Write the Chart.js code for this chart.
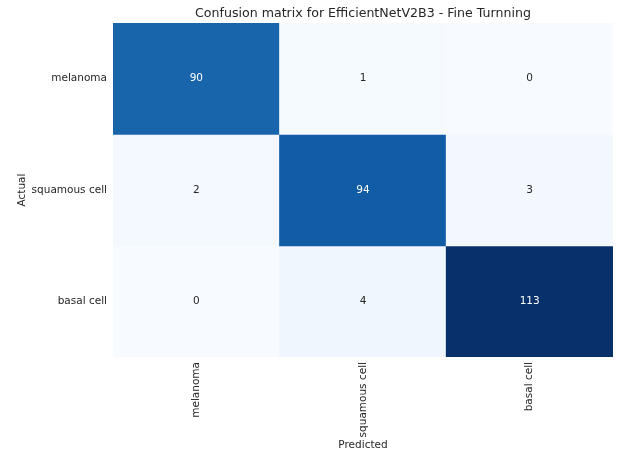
<!DOCTYPE html>
<html>
<head>
<meta charset="utf-8">
<script src="https://cdn.jsdelivr.net/npm/chart.js@4"></script>
<style>
  html, body { margin: 0; padding: 0; background: #fff; }
  canvas { display: block; }
</style>
</head>
<body>
<canvas id="cm" width="628" height="452"></canvas>
<script>
// Class names (rows = actual, columns = predicted)
const actualLabels = ['melanoma', 'squamous cell', 'basal cell'];
const predictedLabels = ['melanoma', 'squamous cell', 'basal cell'];

// Counts per actual class, one list per row
const melanomaRow = [90, 1, 0];
const squamousRow = [2, 94, 3];
const basalRow = [0, 4, 113];
const counts = [melanomaRow, squamousRow, basalRow];

const chartTitle = 'Confusion matrix for EfficientNetV2B3 - Fine Turnning';

// Matplotlib "Blues" colormap anchors
const bluesStops = [
  [247, 251, 255], [222, 235, 247], [198, 219, 239], [158, 202, 225],
  [107, 174, 214], [66, 146, 198], [33, 113, 181], [8, 81, 156], [8, 48, 107]
];
const vmin = 0;
const vmax = Math.max(...counts.flat());

function blues(v) {
  let t = (v - vmin) / (vmax - vmin);
  t = Math.min(1, Math.max(0, t));
  const pos = t * (bluesStops.length - 1);
  const i = Math.min(bluesStops.length - 2, Math.floor(pos));
  const f = pos - i;
  const a = bluesStops[i], b = bluesStops[i + 1];
  return a.map((x, k) => Math.round(x + (b[k] - x) * f));
}
function rgb(c) { return `rgb(${c[0]},${c[1]},${c[2]})`; }
function textColorFor(c) {
  const lum = (0.2126 * c[0] + 0.7152 * c[1] + 0.0722 * c[2]) / 255;
  return lum < 0.408 ? '#ffffff' : '#262626';
}

const FONT = "'DejaVu Sans', sans-serif";
const TEXT = '#262626';

// Each actual class is a dataset of floating bars spanning one row band
const datasets = counts.map((row, i) => ({
  label: actualLabels[i],
  data: predictedLabels.map((p) => ({ x: p, y: [i, i + 1] })),
  backgroundColor: row.map((v) => rgb(blues(v))),
  borderWidth: 0,
  inflateAmount: 0.5,
  barPercentage: 1,
  categoryPercentage: 1,
  grouped: false
}));

// Writes the count in the middle of each cell, and the title centred over the grid
const cellText = {
  id: 'cellText',
  afterDatasetsDraw(chart) {
    const ctx = chart.ctx;
    ctx.save();
    ctx.font = `10.5px ${FONT}`;
    ctx.textAlign = 'center';
    ctx.textBaseline = 'middle';
    chart.data.datasets.forEach((ds, i) => {
      const meta = chart.getDatasetMeta(i);
      meta.data.forEach((el, j) => {
        const v = counts[i][j];
        ctx.fillStyle = textColorFor(blues(v));
        ctx.fillText(String(v), el.x, (el.y + el.base) / 2);
      });
    });
    const area = chart.chartArea;
    ctx.fillStyle = TEXT;
    ctx.font = `12.6px ${FONT}`;
    ctx.textBaseline = 'alphabetic';
    ctx.fillText(chartTitle, (area.left + area.right) / 2, area.top - 6);
    ctx.restore();
  }
};

new Chart(document.getElementById('cm'), {
  type: 'bar',
  data: { labels: predictedLabels, datasets },
  plugins: [cellText],
  options: {
    responsive: false,
    animation: false,
    events: [],
    layout: { padding: { left: 0, right: 15, top: 23, bottom: 0 } },
    plugins: {
      legend: { display: false },
      tooltip: { enabled: false },
      title: { display: false }
    },
    scales: {
      x: {
        type: 'category',
        grid: { display: false, drawTicks: false },
        border: { display: false },
        ticks: {
          color: TEXT,
          font: { family: FONT, size: 10.5 },
          minRotation: 90,
          maxRotation: 90,
          padding: 5
        },
        title: {
          display: true,
          text: 'Predicted',
          color: TEXT,
          font: { family: FONT, size: 10.5 },
          padding: { top: 0, bottom: 0 }
        },
        afterFit(scale) { scale.height = 95; }
      },
      y: {
        type: 'linear',
        min: 0,
        max: 3,
        reverse: true,
        grid: { display: false, drawTicks: false },
        border: { display: false },
        afterBuildTicks(axis) {
          axis.ticks = actualLabels.map((_, i) => ({ value: i + 0.5 }));
        },
        ticks: {
          color: TEXT,
          font: { family: FONT, size: 10.5 },
          padding: 6,
          callback: (v, idx) => actualLabels[idx]
        },
        title: {
          display: true,
          text: 'Actual',
          color: TEXT,
          font: { family: FONT, size: 10.5 },
          padding: { top: 16, bottom: 0 }
        },
        afterFit(scale) { scale.width = 113; }
      }
    }
  }
});
</script>
</body>
</html>
